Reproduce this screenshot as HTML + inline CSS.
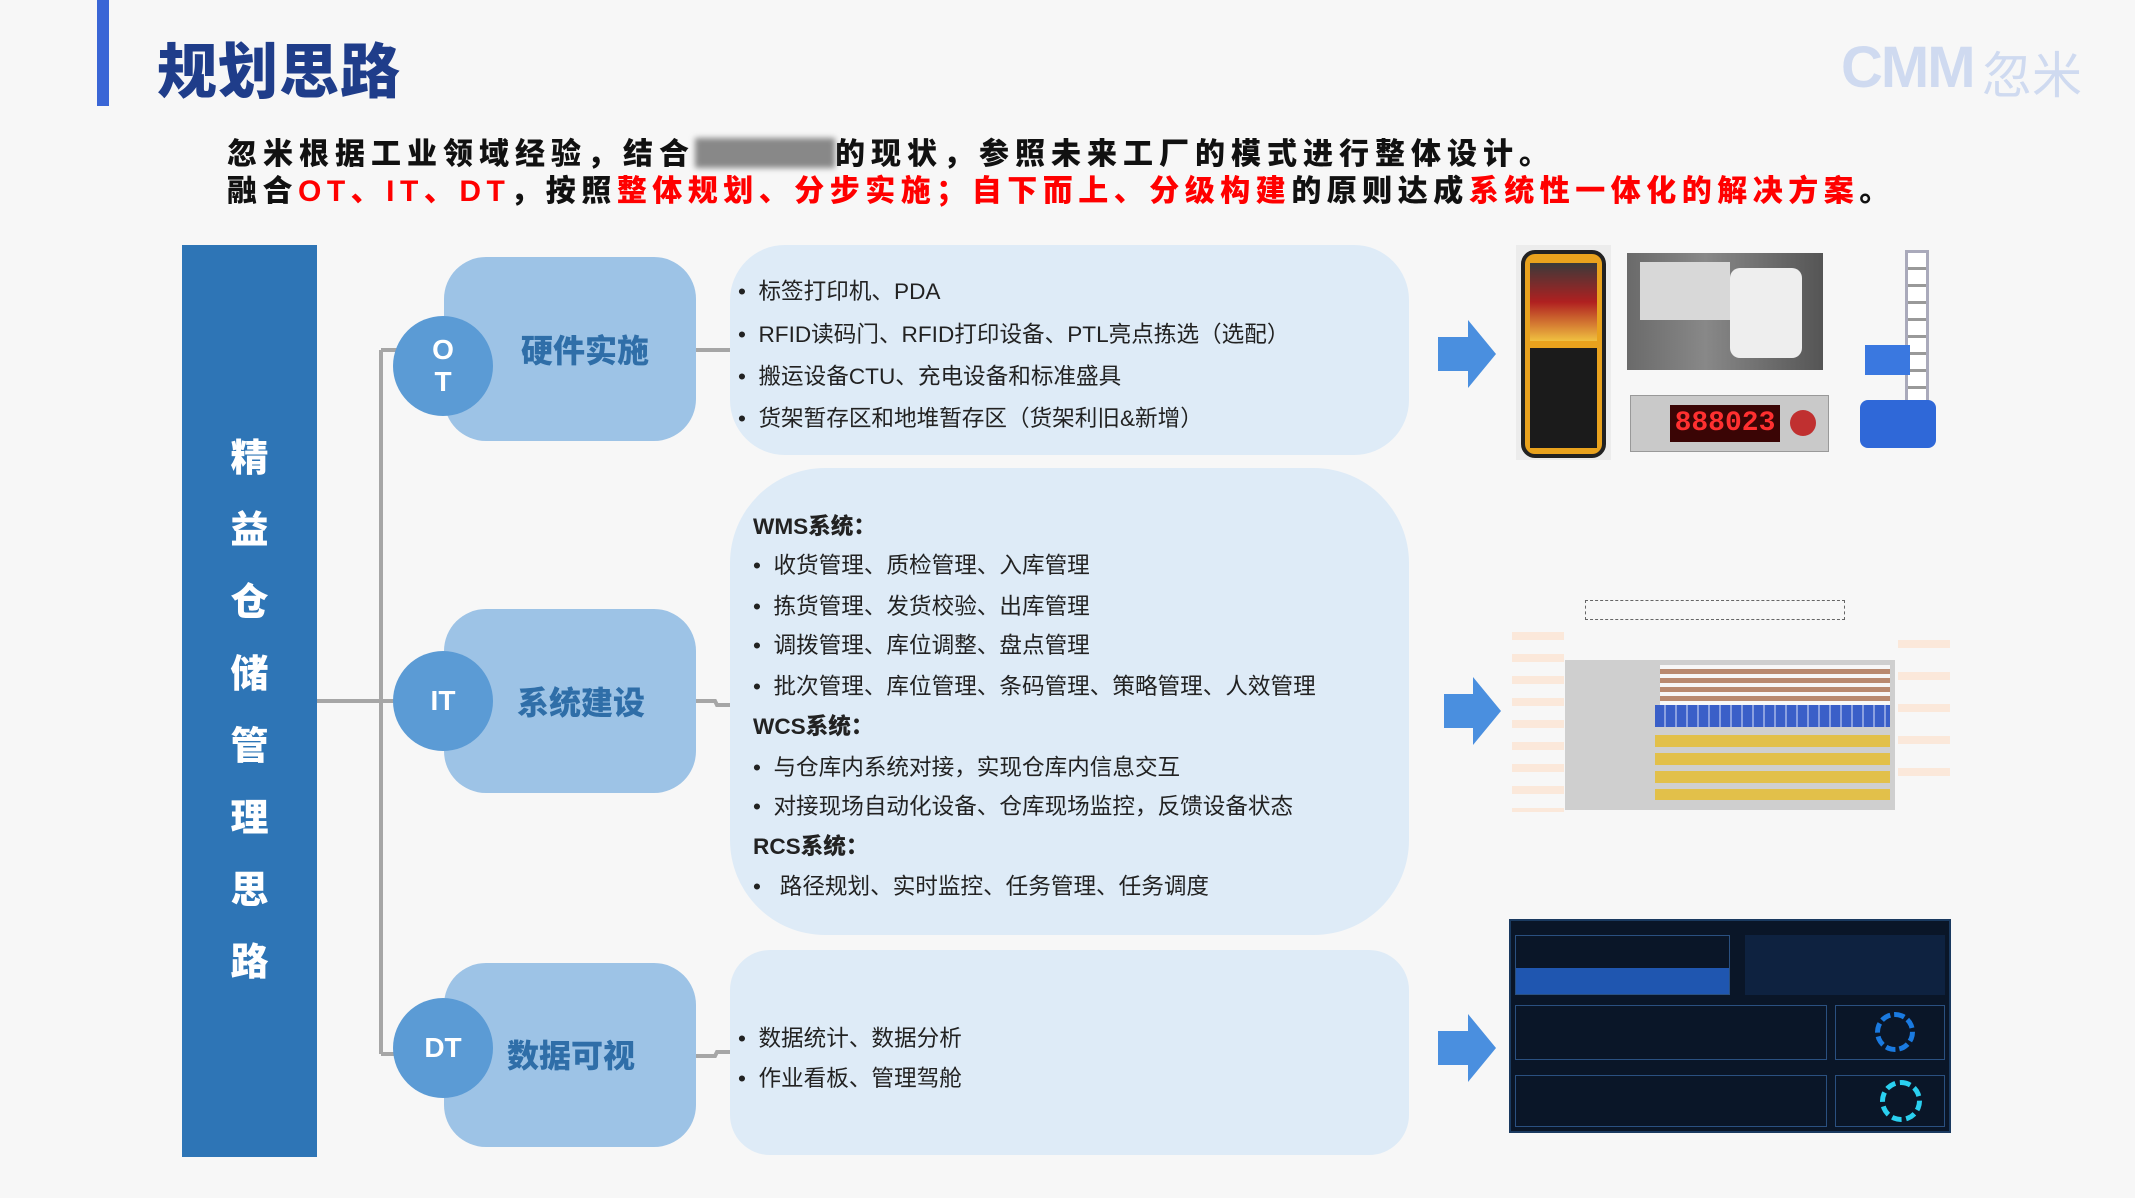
<!DOCTYPE html>
<html><head><meta charset="utf-8">
<style>
*{margin:0;padding:0;box-sizing:border-box}
body{width:2135px;height:1198px;background:#f7f7f7;position:relative;overflow:hidden;font-family:"Liberation Sans","Noto Sans CJK SC",sans-serif}
.a{position:absolute}
.title{left:157px;top:24px;font-size:60px;font-weight:900;color:#1f3d8a;letter-spacing:1px}
.sub{left:227px;font-size:30px;font-weight:900;color:#111;letter-spacing:6px;white-space:nowrap}
.r{color:#ff0000}
.left{left:182px;top:245px;width:135px;height:912px;background:#2e75b6}
.vt{position:absolute;left:0;width:135px;text-align:center;color:#fff;font-size:38px;font-weight:900}
.node{left:444px;width:252px;height:184px;background:#9dc3e6;border-radius:42px}
.circ{width:100px;height:100px;border-radius:50%;background:#5b9bd5;color:#fff;font-weight:900;font-size:28px;display:flex;align-items:center;justify-content:center;text-align:center;line-height:32px}
.nl{font-size:32px;font-weight:900;color:#2f6ea8;white-space:nowrap}
.box{left:730px;width:679px;background:#deebf7}
.t{font-size:22.6px;color:#222;white-space:nowrap}
.t b{font-weight:900}
</style></head><body>
<div class="a" style="left:97px;top:0;width:12px;height:106px;background:#3a66d6"></div>
<div class="a title">规划思路</div>
<div class="a" style="left:1841px;top:34px;font-size:58px;font-weight:900;color:#cfdaf0;letter-spacing:-2px">CMM</div>
<div class="a" style="left:1982px;top:36px;font-size:50px;color:#cfdaf0">忽米</div>
<div class="a sub" style="top:129px">忽米根据工业领域经验，结合<span style="display:inline-block;width:140px;height:30px;vertical-align:-4px;background:#888;filter:blur(3px)"></span>的现状，参照未来工厂的模式进行整体设计。</div>
<div class="a sub" style="top:166px;letter-spacing:5.5px">融合<span class="r">OT、IT、DT</span>，按照<span class="r">整体规划、分步实施；自下而上、分级构建</span>的原则达成<span class="r">系统性一体化的解决方案</span>。</div>

<div class="a left">
<div class="vt" style="top:182px">精</div><div class="vt" style="top:254px">益</div><div class="vt" style="top:326px">仓</div><div class="vt" style="top:398px">储</div><div class="vt" style="top:470px">管</div><div class="vt" style="top:542px">理</div><div class="vt" style="top:614px">思</div><div class="vt" style="top:686px">路</div>
</div>

<svg class="a" style="left:0;top:0" width="2135" height="1198">
<g stroke="#a6a6a6" stroke-width="4" fill="none">
<path d="M317 701 H381 M381 350 V1054 M381 350 H400 M381 1054 H400 M381 701 H400"/>
<path d="M696 350 H730 M696 701 H715 L717 705 H730 M696 1056 H715 L717 1052 H730"/>
</g>
<g fill="#4a8fdf">
<path d="M1438 337 H1468 V320 L1496 354 L1468 388 V371 H1438 Z"/>
<path d="M1444 694 H1473 V677 L1501 711 L1473 745 V728 H1444 Z"/>
<path d="M1438 1031 H1468 V1014 L1496 1048 L1468 1082 V1065 H1438 Z"/>
</g>
</svg>

<div class="a node" style="top:257px"></div>
<div class="a circ" style="left:393px;top:316px">O<br>T</div>
<div class="a nl" style="left:521px;top:326px">硬件实施</div>
<div class="a node" style="top:609px"></div>
<div class="a circ" style="left:393px;top:651px">IT</div>
<div class="a nl" style="left:517px;top:678px">系统建设</div>
<div class="a node" style="top:963px"></div>
<div class="a circ" style="left:393px;top:998px">DT</div>
<div class="a nl" style="left:507px;top:1031px">数据可视</div>

<div class="a box" style="top:245px;height:210px;border-radius:55px"></div>
<div class="a t" style="left:738px;top:273px">•&nbsp; 标签打印机、PDA</div>
<div class="a t" style="left:738px;top:316px">•&nbsp; RFID读码门、RFID打印设备、PTL亮点拣选（选配）</div>
<div class="a t" style="left:738px;top:358px">•&nbsp; 搬运设备CTU、充电设备和标准盛具</div>
<div class="a t" style="left:738px;top:400px">•&nbsp; 货架暂存区和地堆暂存区（货架利旧&amp;新增）</div>

<div class="a box" style="top:468px;height:467px;border-radius:95px"></div>
<div class="a t" style="left:753px;top:508px"><b>WMS系统：</b></div>
<div class="a t" style="left:753px;top:547px">•&nbsp; 收货管理、质检管理、入库管理</div>
<div class="a t" style="left:753px;top:588px">•&nbsp; 拣货管理、发货校验、出库管理</div>
<div class="a t" style="left:753px;top:627px">•&nbsp; 调拨管理、库位调整、盘点管理</div>
<div class="a t" style="left:753px;top:668px">•&nbsp; 批次管理、库位管理、条码管理、策略管理、人效管理</div>
<div class="a t" style="left:753px;top:708px"><b>WCS系统：</b></div>
<div class="a t" style="left:753px;top:749px">•&nbsp; 与仓库内系统对接，实现仓库内信息交互</div>
<div class="a t" style="left:753px;top:788px">•&nbsp; 对接现场自动化设备、仓库现场监控，反馈设备状态</div>
<div class="a t" style="left:753px;top:828px"><b>RCS系统：</b></div>
<div class="a t" style="left:753px;top:868px">•&nbsp;&nbsp; 路径规划、实时监控、任务管理、任务调度</div>

<div class="a box" style="top:950px;height:205px;border-radius:40px"></div>
<div class="a t" style="left:738px;top:1020px">•&nbsp; 数据统计、数据分析</div>
<div class="a t" style="left:738px;top:1060px">•&nbsp; 作业看板、管理驾舱</div>

<!-- images -->
<div class="a" style="left:1516px;top:245px;width:95px;height:215px;background:#ececec"></div>
<div class="a" style="left:1521px;top:250px;width:85px;height:208px;background:#e9a21d;border-radius:14px;border:4px solid #222"></div>
<div class="a" style="left:1530px;top:263px;width:67px;height:78px;background:linear-gradient(#3a3a3a,#b02020,#f0c040)"></div>
<div class="a" style="left:1530px;top:348px;width:67px;height:100px;background:#1b1b1b"></div>
<div class="a" style="left:1627px;top:253px;width:196px;height:117px;background:linear-gradient(90deg,#6a6a6a,#888 40%,#555)"></div>
<div class="a" style="left:1640px;top:262px;width:90px;height:58px;background:#d8d8d8"></div>
<div class="a" style="left:1730px;top:268px;width:72px;height:90px;background:#eee;border-radius:10px"></div>
<div class="a" style="left:1630px;top:395px;width:199px;height:57px;background:#c9c9c9;border:1px solid #999"></div>
<div class="a" style="left:1670px;top:405px;width:110px;height:37px;background:#3a0505;color:#ff3030;font-family:'Liberation Mono',monospace;font-size:28px;font-weight:bold;text-align:center;line-height:37px">888023</div>
<div class="a" style="left:1790px;top:410px;width:26px;height:26px;border-radius:50%;background:#c03030"></div>
<div class="a" style="left:1905px;top:250px;width:24px;height:190px;border:3px solid #aab;background:repeating-linear-gradient(#fff 0 14px,#999 14px 17px)"></div>
<div class="a" style="left:1860px;top:400px;width:76px;height:48px;background:#2f68d8;border-radius:8px"></div>
<div class="a" style="left:1865px;top:345px;width:45px;height:30px;background:#3a78e0"></div>

<div class="a" style="left:1565px;top:660px;width:330px;height:150px;background:#cfcfcf"></div>
<div class="a" style="left:1660px;top:665px;width:230px;height:55px;background:repeating-linear-gradient(#f7f7f7 0 4px,#b98a70 4px 9px)"></div>
<div class="a" style="left:1655px;top:705px;width:235px;height:22px;background:repeating-linear-gradient(90deg,#3a5fc8 0 9px,#8aa0e0 9px 11px)"></div>
<div class="a" style="left:1655px;top:735px;width:235px;height:65px;background:repeating-linear-gradient(#e2c04a 0 12px,#cfcfcf 12px 18px)"></div>
<div class="a" style="left:1585px;top:600px;width:260px;height:20px;border:1px dashed #666"></div>
<div class="a" style="left:1512px;top:632px;width:52px;height:180px;background:repeating-linear-gradient(#fbe8da 0 8px,#f7f7f7 8px 22px)"></div>
<div class="a" style="left:1898px;top:640px;width:52px;height:150px;background:repeating-linear-gradient(#fbe8da 0 8px,#f7f7f7 8px 32px)"></div>

<div class="a" style="left:1509px;top:919px;width:442px;height:214px;background:#0a1628;border:2px solid #1a3a60"></div>
<div class="a" style="left:1515px;top:935px;width:215px;height:60px;border:1px solid #2a5080;background:linear-gradient(transparent 55%,#1f56b0 55%)"></div>
<div class="a" style="left:1745px;top:935px;width:200px;height:60px;background:#0e2240"></div>
<div class="a" style="left:1515px;top:1005px;width:312px;height:55px;border:1px solid #2a5080"></div>
<div class="a" style="left:1835px;top:1005px;width:110px;height:55px;border:1px solid #2a5080"></div>
<div class="a" style="left:1875px;top:1012px;width:40px;height:40px;border-radius:50%;border:5px dashed #1a7ae0"></div>
<div class="a" style="left:1515px;top:1075px;width:312px;height:52px;border:1px solid #2a5080"></div>
<div class="a" style="left:1835px;top:1075px;width:110px;height:52px;border:1px solid #2a5080"></div>
<div class="a" style="left:1880px;top:1080px;width:42px;height:42px;border-radius:50%;border:5px dashed #2ad0f0"></div>
</body></html>
